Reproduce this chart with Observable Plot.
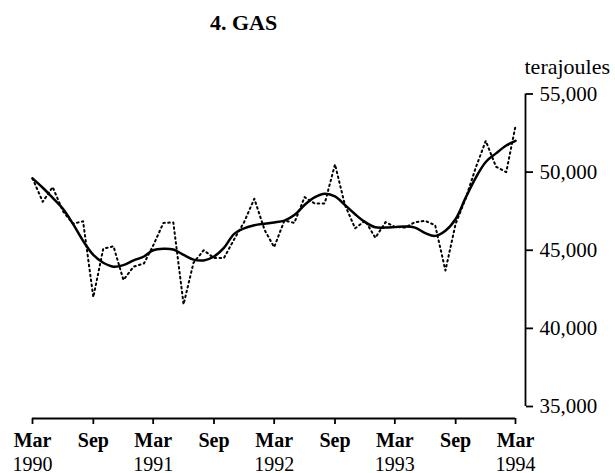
<!DOCTYPE html>
<html><head><meta charset="utf-8">
<script src="https://cdn.jsdelivr.net/npm/d3@7"></script>
<script src="https://cdn.jsdelivr.net/npm/@observablehq/plot@0.6"></script>
<style>
body{margin:0;background:#fff;}
#wrap{position:relative;width:615px;height:473px;}
#title{position:absolute;left:0;width:487px;top:12px;text-align:center;font:bold 22px "Liberation Serif",serif;line-height:22px;color:#000;z-index:2;}
#chart{position:absolute;left:0;top:0;}
</style></head><body>
<div id="wrap"><div id="title"></div><div id="chart"></div></div>
<script>
const title = "4. GAS";
const unitLabel = "terajoules";
// Monthly series, Mar 1990 .. Mar 1994
const original = [49600,48100,49050,47500,46700,46850,42000,45100,45250,43100,43950,44150,45300,46750,46780,41540,44200,45000,44500,44500,45700,46800,48300,46300,45200,46900,46750,48400,48000,48000,50500,47900,46400,46900,45800,46800,46500,46450,46800,46880,46600,43700,46700,48300,50300,52000,50350,50000,52950];
const trend = [49600,49000,48350,47650,46700,45600,44700,44200,43950,44050,44350,44600,45000,45100,45050,44700,44400,44350,44600,45150,46050,46400,46600,46700,46780,46900,47250,47900,48380,48620,48450,47900,47300,46800,46470,46450,46480,46520,46450,46100,45920,46250,47000,48350,49650,50650,51200,51700,52000];
const tickMonths = ["Mar","Sep","Mar","Sep","Mar","Sep","Mar","Sep","Mar"];
const tickYears = ["1990","","1991","","1992","","1993","","1994"];
const yTicks = [35000,40000,45000,50000,55000];

document.getElementById("title").textContent = title;

const start = new Date(Date.UTC(1990, 2, 1));
const dates = original.map((_, i) => d3.utcMonth.offset(start, i));
const rows = dates.map((date, i) => ({date, original: original[i], trend: trend[i]}));
const tickDates = tickMonths.map((_, i) => d3.utcMonth.offset(start, 6 * i));
const ticks = tickDates.map((date, i) => ({date, month: tickMonths[i], year: tickYears[i]}));
const xEnd = dates[dates.length - 1];

const plot = Plot.plot({
  width: 615, height: 473,
  marginLeft: 32, marginRight: 100, marginTop: 93.5, marginBottom: 67,
  style: {fontFamily: '"Liberation Serif", serif', fontSize: "20px", background: "#fff", color: "#000"},
  x: {type: "utc", domain: [start, xEnd]},
  y: {domain: [yTicks[0], yTicks[yTicks.length - 1]]},
  marks: [
    Plot.ruleY([yTicks[0]], {dy: 12, strokeWidth: 1.8}),
    Plot.axisX(tickDates, {tickSize: 6, tickFormat: () => "", dy: 12, strokeWidth: 1.8, label: null}),
    Plot.text(ticks, {x: "date", text: "month", frameAnchor: "bottom", lineAnchor: "bottom", dy: 40, fontWeight: "bold", fontSize: 20}),
    Plot.text(ticks, {x: "date", text: "year", frameAnchor: "bottom", lineAnchor: "bottom", dy: 64, fontSize: 20}),
    Plot.ruleX([xEnd], {y1: yTicks[0], y2: yTicks[yTicks.length - 1], dx: 10, strokeWidth: 1.8}),
    Plot.axisY(yTicks, {anchor: "right", tickSize: 7, tickPadding: 7, dx: 10, tickFormat: d3.format(","), fontSize: 21, strokeWidth: 1.8, label: null}),
    Plot.text([unitLabel], {frameAnchor: "top-right", textAnchor: "start", lineAnchor: "bottom", dx: 9, dy: -20.5, fontSize: 22}),
    Plot.line(rows, {x: "date", y: "original", strokeDasharray: "1.6,3.4", strokeWidth: 2}),
    Plot.line(rows, {x: "date", y: "trend", curve: "catmull-rom", strokeWidth: 2.5})
  ]
});
document.getElementById("chart").appendChild(plot);
</script>
</body></html>
